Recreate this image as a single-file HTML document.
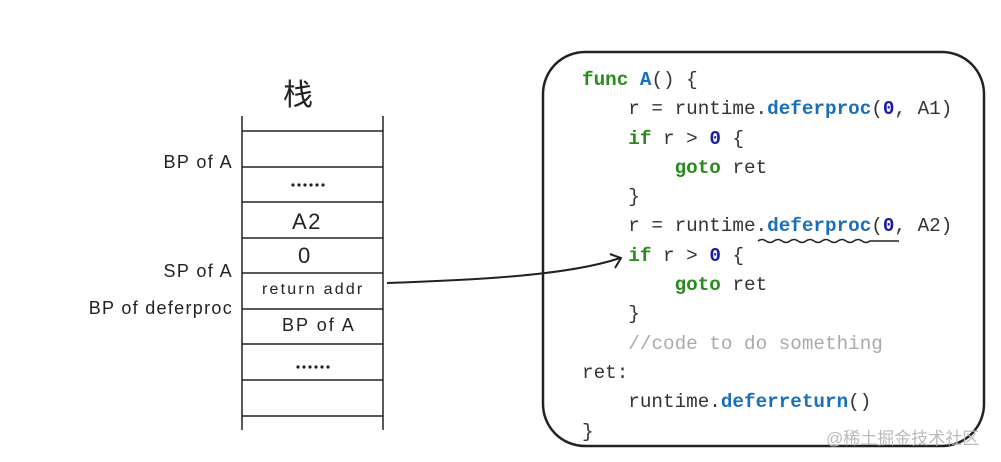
<!DOCTYPE html>
<html><head><meta charset="utf-8"><style>
body{margin:0;width:1001px;height:462px;background:#fff;position:relative;overflow:hidden;font-family:"Liberation Sans",sans-serif}
.l{position:absolute;font-size:18px;color:#222;white-space:nowrap;letter-spacing:1.5px}
.r{right:768px;text-align:right}
.code{position:absolute;left:582px;font-family:"Liberation Mono",monospace;font-size:19.3px;color:#333;white-space:pre;line-height:29.3px;top:66px}
.k{color:#2a8a1e;font-weight:bold}.f{color:#1a6fb8;font-weight:bold}.n{color:#1a1aa8;font-weight:bold}.c{color:#aaa}
</style></head><body>
<svg width="1001" height="462" style="position:absolute;left:0;top:0">
<g stroke="#222" stroke-width="1.5" fill="none">
<line x1="242" y1="116" x2="242" y2="430"/><line x1="383" y1="116" x2="383" y2="430"/>
<line x1="242" y1="131" x2="383" y2="131"/><line x1="242" y1="167" x2="383" y2="167"/>
<line x1="242" y1="202" x2="383" y2="202"/><line x1="242" y1="238" x2="383" y2="238"/>
<line x1="242" y1="273" x2="383" y2="273"/><line x1="242" y1="309" x2="383" y2="309"/>
<line x1="242" y1="344" x2="383" y2="344"/><line x1="242" y1="380" x2="383" y2="380"/>
<line x1="242" y1="416" x2="383" y2="416"/>
<rect x="543" y="52" width="441" height="394" rx="42" stroke-width="2.5"/>
<path d="M387 283 C480 280 570 275 620 258" stroke-width="2"/>
<path d="M610 254 L621 258 L615 268" stroke-width="2"/>
<path d="M758 241 q4 -3 8 0 t8 0 t8 0 t8 0 t8 0 t8 0 t8 0 t8 0 t8 0 t8 0 t8 0 t8 0 t8 0 t8 0 L899 241" stroke-width="1.5"/>
</g>
<g fill="#222">
<circle cx="293" cy="185" r="1.6"/><circle cx="299" cy="185" r="1.6"/><circle cx="305" cy="185" r="1.6"/><circle cx="311" cy="185" r="1.6"/><circle cx="317" cy="185" r="1.6"/><circle cx="323" cy="185" r="1.6"/>
<circle cx="298" cy="367" r="1.6"/><circle cx="304" cy="367" r="1.6"/><circle cx="310" cy="367" r="1.6"/><circle cx="316" cy="367" r="1.6"/><circle cx="322" cy="367" r="1.6"/><circle cx="328" cy="367" r="1.6"/>
</g></svg>
<div class="l" style="left:283px;top:70px;font-size:30px;font-family:'Noto Sans CJK SC',sans-serif;letter-spacing:0">栈</div>
<div class="l r" style="top:152px;letter-spacing:1.4px">BP of A</div>
<div class="l r" style="top:261px;letter-spacing:1.4px">SP of A</div>
<div class="l r" style="top:298px;letter-spacing:1.3px">BP of deferproc</div>
<div class="l" style="left:292px;top:209px;font-size:22px">A2</div>
<div class="l" style="left:298px;top:243px;font-size:22px">0</div>
<div class="l" style="left:262px;top:281px;font-size:16px;letter-spacing:2.2px">return addr</div>
<div class="l" style="left:282px;top:315px;letter-spacing:2px">BP of A</div>
<div class="code"><span class="k">func</span> <span class="f">A</span>() {
    r = runtime.<span class="f">deferproc</span>(<span class="n">0</span>, A1)
    <span class="k">if</span> r &gt; <span class="n">0</span> {
        <span class="k">goto</span> ret
    }
    r = runtime.<span class="f">deferproc</span>(<span class="n">0</span>, A2)
    <span class="k">if</span> r &gt; <span class="n">0</span> {
        <span class="k">goto</span> ret
    }
    <span class="c">//code to do something</span>
ret:
    runtime.<span class="f">deferreturn</span>()
}</div>
<div class="l" style="left:826px;top:424px;color:#bbb;font-size:17px;letter-spacing:0;font-family:'Liberation Sans','Noto Sans CJK SC',sans-serif">@稀土掘金技术社区</div>
</body></html>
